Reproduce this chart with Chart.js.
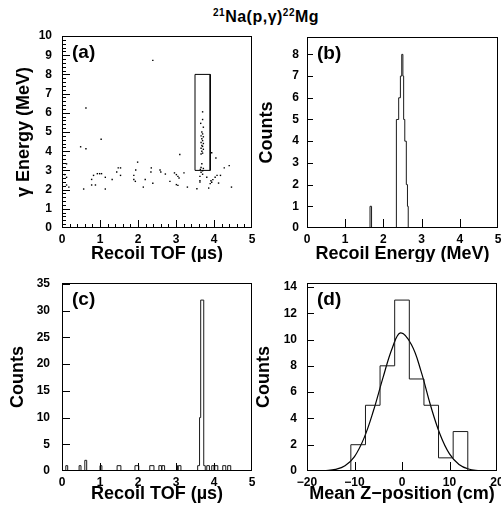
<!DOCTYPE html>
<html>
<head>
<meta charset="utf-8">
<script src="https://cdn.jsdelivr.net/npm/chart.js@4.4.1/dist/chart.umd.min.js"></script>
<style>
body { margin: 0; background: #fff; width: 501px; height: 508px; position: relative; overflow: hidden; }
canvas { position: absolute; }
#title { position: absolute; left: 213px; top: 8px; font: bold 16px 'Liberation Sans', Arial, sans-serif; letter-spacing: 0.5px; white-space: nowrap; }
#title sup { font-size: 10px; vertical-align: 6px; line-height: 0; }
</style>
</head>
<body>
<div id="title"><sup>21</sup>Na(p,γ)<sup>22</sup>Mg</div>
<canvas id="chartA" width="256" height="262" style="left:0;top:0"></canvas>
<canvas id="chartB" width="251" height="262" style="left:250px;top:0"></canvas>
<canvas id="chartC" width="256" height="246" style="left:0;top:262px"></canvas>
<canvas id="chartD" width="251" height="246" style="left:250px;top:262px"></canvas>
<script>
// (a) gamma energy vs recoil TOF, one point per event
const tofA = [0.07, 0.12, 0.12, 0.12, 0.18, 0.49, 0.57, 0.63, 0.63, 0.78, 0.78, 0.83, 0.88, 0.93, 0.99, 1.03, 1.04, 1.14, 1.14, 1.32,
  1.44, 1.48, 1.54, 1.54, 1.89, 1.89, 1.93, 1.94, 1.99, 2.14, 2.19, 2.34, 2.35, 2.39, 2.39, 2.58, 2.60, 2.72, 2.84, 2.96,
  3.01, 3.05, 3.08, 3.01, 3.05, 3.10, 3.21, 3.30, 3.55, 3.63, 3.63, 3.63, 3.81, 3.94, 4.05, 4.27, 4.40, 4.03, 3.92, 3.97,
  4.08, 4.17, 3.90, 3.94, 4.12, 3.86, 4.46,
  3.70, 3.70, 3.65, 3.72, 3.68, 3.70, 3.66, 3.72, 3.68, 3.70, 3.66, 3.72, 3.68, 3.70, 3.66, 3.72, 3.68, 3.70, 3.66, 3.68,
  3.66, 3.72, 3.64, 3.70, 3.66, 3.70];
const egA = [2.78, 3.34, 2.64, 2.24, 2.13, 4.23, 2.03, 6.25, 4.13, 2.53, 2.24, 2.74, 2.24, 2.83, 2.83, 4.62, 2.83, 2.64, 2.03, 2.53,
  2.92, 3.13, 3.13, 2.74, 2.74, 2.53, 2.43, 3.02, 3.43, 2.13, 2.53, 2.92, 3.13, 8.73, 2.33, 3.02, 2.92, 2.81, 2.43, 2.87,
  2.78, 2.69, 2.60, 2.26, 2.22, 3.83, 2.87, 2.13, 2.04, 2.69, 2.46, 2.39, 2.64, 3.92, 3.65, 3.13, 3.25, 2.64, 2.46, 2.52,
  2.74, 2.74, 2.31, 2.38, 2.34, 2.08, 2.13,
  6.05, 5.65, 5.45, 5.25, 5.00, 4.90, 4.80, 4.75, 4.65, 4.55, 4.45, 4.40, 4.30, 4.25, 4.15, 4.10, 4.00, 3.90, 3.85, 3.35,
  3.15, 3.10, 3.05, 2.98, 2.90, 2.80];
const cutTof = [3.5, 3.9];
const cutEnergy = [3, 8];

// (b) recoil energy histogram
const energyLo = [1.65, 2.34, 2.40, 2.445, 2.48, 2.51, 2.53, 2.56, 2.60, 2.63];
const energyHi = [1.69, 2.40, 2.445, 2.48, 2.51, 2.53, 2.56, 2.60, 2.63, 2.65];
const energyCounts = [1, 5, 6, 7, 8, 7, 5, 4, 2, 1];

// (c) recoil TOF histogram
const tofLo = [0.10, 0.45, 0.60, 1.00, 1.45, 1.92, 2.31, 2.55, 2.63, 3.02, 3.06, 3.57, 3.62, 3.65, 3.73, 3.81, 3.94, 4.02, 4.23, 4.36];
const tofHi = [0.15, 0.50, 0.65, 1.05, 1.55, 2.02, 2.42, 2.62, 2.70, 3.04, 3.13, 3.62, 3.65, 3.73, 3.77, 3.88, 4.00, 4.10, 4.31, 4.44];
const tofCounts = [1, 1, 2, 1, 1, 1, 1, 1, 1, 1, 1, 1, 10, 32, 1, 1, 1, 1, 1, 1];

// (d) mean z-position histogram + gaussian fit
const zLo = [-10.77, -7.69, -4.62, -1.54, 1.54, 4.62, 7.69, 10.77];
const zHi = [-7.69, -4.62, -1.54, 1.54, 4.62, 7.69, 10.77, 13.85];
const zCounts = [2, 5, 8, 13, 7, 5, 1, 3];
const fitZ = [-18, -16, -14, -12, -10, -8, -6, -4, -2, -0.3, 2, 4, 6, 8, 10, 12, 14, 16, 18];
const fitCounts = [0.0, 0.03, 0.12, 0.4, 1.1, 2.5, 4.6, 7.1, 9.4, 10.5, 9.6, 7.6, 5.0, 2.8, 1.3, 0.5, 0.15, 0.04, 0.0];

const FONT = "'Liberation Sans', Arial, sans-serif";

// step outline of a histogram, dropping to zero between separated bins
function histPoints(lo, hi, counts) {
    const pts = [];
    for (let i = 0; i < lo.length; i++) {
        if (i === 0 || Math.abs(lo[i] - hi[i - 1]) > 1e-6) pts.push({x: lo[i], y: 0});
        pts.push({x: lo[i], y: counts[i]});
        if (i === lo.length - 1 || Math.abs(lo[i + 1] - hi[i]) > 1e-6) pts.push({x: hi[i], y: 0});
    }
    return pts;
}

// frame, inward ticks and the (a)/(b)... label, ROOT style
const rootFrame = {
    id: 'rootFrame',
    afterDatasetsDraw(chart, args, o) {
        const {ctx, chartArea: a, scales: {x, y}} = chart;
        ctx.save();
        ctx.strokeStyle = '#000';
        ctx.lineWidth = 1;
        ctx.strokeRect(a.left + 0.5, a.top + 0.5, a.right - a.left - 1, a.bottom - a.top - 1);
        ctx.beginPath();
        let n = Math.round((x.max - x.min) / o.xMinor);
        const xr = Math.round(o.xMajor / o.xMinor);
        for (let i = 1; i < n; i++) {
            const px = Math.round(x.getPixelForValue(x.min + i * o.xMinor)) + 0.5;
            ctx.moveTo(px, a.bottom);
            ctx.lineTo(px, a.bottom - (i % xr === 0 ? o.xLen : o.minLen));
        }
        n = Math.floor((y.max - y.min) / o.yMinor + 1e-6);
        const yr = Math.round(o.yMajor / o.yMinor);
        for (let i = 1; i <= n; i++) {
            const py = Math.round(y.getPixelForValue(y.min + i * o.yMinor)) + 0.5;
            if (py <= a.top + 1) continue;
            ctx.moveTo(a.left, py);
            ctx.lineTo(a.left + (i % yr === 0 ? o.yLen : o.minLen), py);
        }
        ctx.stroke();
        ctx.fillStyle = '#000';
        ctx.font = 'bold 19px ' + FONT;
        ctx.textBaseline = 'middle';
        ctx.fillText(o.label, a.left + 10, a.top + 17);
        ctx.restore();
    }
};

function fmt(v) {
    return v < 0 ? '\u2212' + Math.abs(v) : String(v);
}

function makeScales(c) {
    return {
        x: {
            type: 'linear', min: c.xMin, max: c.xMax,
            grid: {display: false, drawTicks: false}, border: {display: false},
            ticks: {stepSize: c.xStep, autoSkip: false, maxRotation: 0, includeBounds: false, padding: 4,
                color: '#000', font: {family: FONT, size: 12, weight: 'bold'}, callback: fmt},
            title: {display: true, text: c.xTitle, color: '#000', font: {family: FONT, size: 18, weight: '600', lineHeight: 1},
                padding: {top: 0, bottom: c.xTitlePad}},
            afterFit(s) { s.height = c.xH; s.paddingLeft = 0; s.paddingRight = 0; }
        },
        y: {
            type: 'linear', min: 0, max: c.yMax,
            grid: {display: false, drawTicks: false}, border: {display: false},
            ticks: {stepSize: c.yStep, autoSkip: false, includeBounds: false, padding: c.yTickPad,
                color: '#000', font: {family: FONT, size: 12, weight: 'bold'}, callback: fmt},
            title: {display: true, text: c.yTitle, color: '#000', font: {family: FONT, size: 18, weight: '600', lineHeight: 1},
                padding: {top: c.yTitlePad, bottom: 0}},
            afterFit(s) { s.width = c.yW; s.paddingTop = 0; s.paddingBottom = 0; }
        }
    };
}

function makeChart(id, datasets, c) {
    return new Chart(document.getElementById(id), {
        type: 'line',
        data: {datasets: datasets},
        options: {
            responsive: false,
            animation: false,
            events: [],
            layout: {padding: {left: 0, top: c.padTop, right: c.padRight, bottom: 0}},
            scales: makeScales(c),
            plugins: {
                legend: {display: false},
                tooltip: {enabled: false},
                rootFrame: c.frame
            }
        },
        plugins: [rootFrame]
    });
}

function histSet(lo, hi, counts) {
    return {
        data: histPoints(lo, hi, counts), stepped: 'before', borderColor: '#1a1a1a', borderWidth: 1,
        pointRadius: 0, fill: false, tension: 0
    };
}

const chartA = makeChart('chartA', [
    {
        data: tofA.map((t, i) => ({x: t, y: egA[i]})), showLine: false,
        pointStyle: 'rect', pointRadius: 1, backgroundColor: '#000', borderWidth: 0
    },
    {
        data: [
            {x: cutTof[0], y: cutEnergy[0]}, {x: cutTof[0], y: cutEnergy[1]},
            {x: cutTof[1], y: cutEnergy[1]}, {x: cutTof[1], y: cutEnergy[0]},
            {x: cutTof[0], y: cutEnergy[0]}
        ],
        borderColor: '#000', borderWidth: 1, pointRadius: 0, tension: 0
    }
], {
    xMin: 0, xMax: 5, xStep: 1, yMax: 10, yStep: 1, xTitle: 'Recoil TOF (\u00b5s)', yTitle: '\u03b3 Energy (MeV)',
    xH: 34, yW: 62, padTop: 36, padRight: 4, xTitlePad: -1, yTitlePad: 15, yTickPad: 10,
    frame: {label: '(a)', xMajor: 1, xMinor: 0.2, yMajor: 1, yMinor: 0.2, xLen: 8, yLen: 8, minLen: 4}
});

const chartB = makeChart('chartB', [histSet(energyLo, energyHi, energyCounts)], {
    xMin: 0, xMax: 5, xStep: 1, yMax: 8.8, yStep: 1, xTitle: 'Recoil Energy (MeV)', yTitle: 'Counts',
    xH: 34, yW: 57, padTop: 37, padRight: 3, xTitlePad: -1, yTitlePad: 8, yTickPad: 8,
    frame: {label: '(b)', xMajor: 1, xMinor: 1, yMajor: 1, yMinor: 1, xLen: 9, yLen: 6, minLen: 4}
});

const chartC = makeChart('chartC', [histSet(tofLo, tofHi, tofCounts)], {
    xMin: 0, xMax: 5, xStep: 1, yMax: 35.2, yStep: 5, xTitle: 'Recoil TOF (\u00b5s)', yTitle: 'Counts',
    xH: 37, yW: 62, padTop: 21, padRight: 4, xTitlePad: 5, yTitlePad: 9, yTickPad: 12,
    frame: {label: '(c)', xMajor: 1, xMinor: 1, yMajor: 5, yMinor: 5, xLen: 8, yLen: 8, minLen: 4}
});

const chartD = makeChart('chartD', [
    histSet(zLo, zHi, zCounts),
    {
        data: fitZ.map((z, i) => ({x: z, y: fitCounts[i]})), borderColor: '#000', borderWidth: 1.2,
        pointRadius: 0, tension: 0.4, fill: false
    }
], {
    xMin: -20, xMax: 20, xStep: 10, yMax: 14.3, yStep: 2, xTitle: 'Mean Z\u2212position (cm)', yTitle: 'Counts',
    xH: 37, yW: 57, padTop: 21, padRight: 4, xTitlePad: 5, yTitlePad: 5, yTickPad: 10,
    frame: {label: '(d)', xMajor: 10, xMinor: 10, yMajor: 2, yMinor: 2, xLen: 9, yLen: 7, minLen: 4}
});
</script>
</body>
</html>
